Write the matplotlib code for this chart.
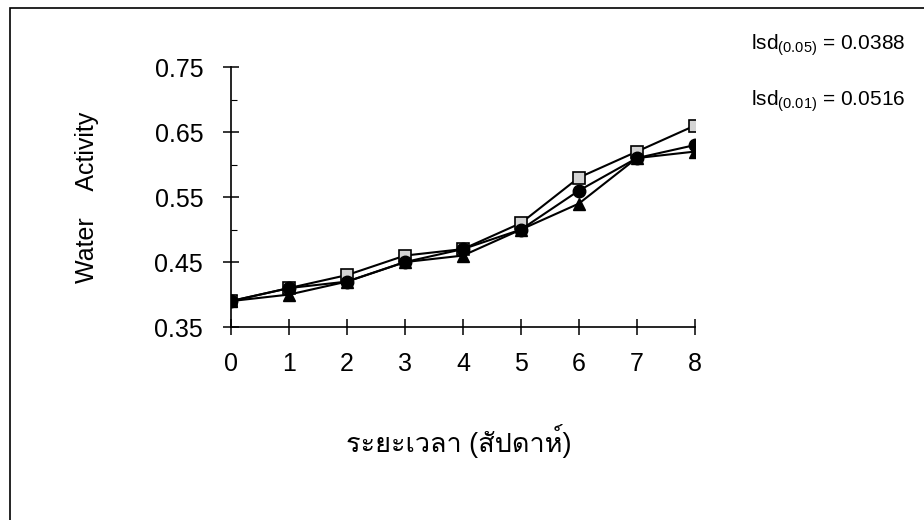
import numpy as np
import matplotlib.pyplot as plt
from matplotlib import font_manager
from matplotlib.patches import Rectangle
from matplotlib.ticker import MultipleLocator
from fontTools.ttLib import TTFont

# look for an installed font that has Thai glyphs
thai_family = None
for f in font_manager.fontManager.ttflist:
    try:
        tt = TTFont(f.fname, fontNumber=0, lazy=True)
        if 0x0E23 in tt.getBestCmap():
            thai_family = f.name
            break
    except Exception:
        continue

families = ['Liberation Sans', 'DejaVu Sans']
if thai_family:
    families.append(thai_family)
plt.rcParams['font.family'] = families
plt.rcParams['mathtext.fontset'] = 'custom'
plt.rcParams['mathtext.rm'] = 'Liberation Sans'
plt.rcParams['mathtext.it'] = 'Liberation Sans'

weeks = [0, 1, 2, 3, 4, 5, 6, 7, 8]
aw_square = [0.39, 0.41, 0.43, 0.46, 0.47, 0.51, 0.58, 0.62, 0.66]
aw_circle = [0.39, 0.41, 0.42, 0.45, 0.47, 0.50, 0.56, 0.61, 0.63]
aw_triangle = [0.39, 0.40, 0.42, 0.45, 0.46, 0.50, 0.54, 0.61, 0.62]
yticks = [0.35, 0.45, 0.55, 0.65, 0.75]
lsd_lines = ['lsd$_{(0.05)}$ = 0.0388', 'lsd$_{(0.01)}$ = 0.0516']

fig = plt.figure(figsize=(9.24, 5.2), dpi=100)
ax = fig.add_axes([0.25, 0.371, 0.502, 0.500])

ax.plot(weeks, aw_triangle, color='black', lw=1.5, marker='^', ms=9,
        mfc='black', mec='black', zorder=3)
ax.plot(weeks, aw_square, color='black', lw=1.5, marker='s', ms=8,
        mfc='#d4d4d4', mec='black', mew=1.2, zorder=4)
ax.plot(weeks, aw_circle, color='black', lw=1.5, marker='o', ms=9,
        mfc='black', mec='black', zorder=5)

ax.set_xlim(0, 8)
ax.set_ylim(0.35, 0.75)
ax.set_xticks(weeks)
ax.set_yticks(yticks)
ax.set_yticklabels([f'{v:.2f}' for v in yticks])
ax.yaxis.set_minor_locator(MultipleLocator(0.05))

for s in ['top', 'right']:
    ax.spines[s].set_visible(False)
for s in ['left', 'bottom']:
    ax.spines[s].set_linewidth(1.2)
ax.tick_params(which='major', direction='inout', length=12, width=1.1,
               labelsize=18, pad=6)
ax.tick_params(axis='y', which='major', pad=14)
ax.tick_params(axis='y', which='minor', direction='in', length=4, width=0.8)
ax.tick_params(axis='x', pad=12)

ax.set_ylabel('Water    Activity', fontsize=18, labelpad=40)
fig.text(0.497, 0.152, 'ระยะเวลา (สัปดาห์)', fontsize=19.5,
         ha='center', va='center')

fig.text(0.813, 0.913, lsd_lines[0], fontsize=15, ha='left', va='center')
fig.text(0.813, 0.806, lsd_lines[1], fontsize=15, ha='left', va='center')

# scanned frame around the figure
fig.patches.append(Rectangle((0.011, -0.05), 1.1, 1.035, transform=fig.transFigure,
                             fill=False, ec='black', lw=1.2))

fig.savefig('out.png', dpi=100)
